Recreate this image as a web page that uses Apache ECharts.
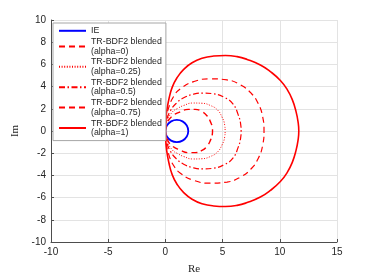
<!DOCTYPE html>
<html>
<head>
<meta charset="utf-8">
<script src="https://cdn.jsdelivr.net/npm/echarts@6/dist/echarts.min.js"></script>
<style>html,body{margin:0;padding:0;background:#fff}#c{width:374px;height:280px}</style>
</head>
<body>
<div id="c"></div>
<script>
const xTicks = [-10, 15, 5];
const yTicks = [-10, 10, 2];
const names = ['IE', 'TR-BDF2 blended\n(alpha=0)', 'TR-BDF2 blended\n(alpha=0.25)', 'TR-BDF2 blended\n(alpha=0.5)', 'TR-BDF2 blended\n(alpha=0.75)', 'TR-BDF2 blended\n(alpha=1)'];

const ieRe = [2, 1.87, 1.5, 1, 0.5, 0.13, 0, 0.13, 0.5, 1, 1.5, 1.87, 2];
const ieIm = [0, 0.5, 0.87, 1, 0.87, 0.5, 0, -0.5, -0.87, -1, -0.87, -0.5, 0];

const a0Re = [0, 0.15, 0.55, 1.31, 2.0, 2.6, 3.2, 3.65, 3.95, 4.1, 4.12, 4.1, 3.95, 3.65, 3.2, 2.6, 2.0, 1.31, 0.55, 0.15, 0];
const a0Im = [0, 0.7, 1.3, 1.73, 1.95, 1.95, 1.75, 1.35, 0.8, 0.3, 0, -0.3, -0.8, -1.35, -1.75, -1.95, -1.95, -1.73, -1.3, -0.7, 0];

const a25Re = [0, 0.12, 0.6, 1.1, 1.6, 2.4, 3.2, 3.93, 4.55, 4.95, 5.18, 5.22, 5.18, 4.95, 4.55, 3.93, 3.2, 2.4, 1.6, 1.1, 0.6, 0.12, 0];
const a25Im = [0, 0.8, 1.7, 2.05, 2.3, 2.52, 2.5, 2.3, 1.9, 1.25, 0.55, 0, -0.55, -1.25, -1.9, -2.3, -2.5, -2.52, -2.3, -2.05, -1.7, -0.8, 0];

const a50Re = [0, 0.1, 0.44, 1.0, 1.6, 2.4, 3.3, 4.2, 5.2, 5.9, 6.35, 6.58, 6.62, 6.58, 6.35, 5.9, 5.2, 4.2, 3.3, 2.4, 1.6, 1.0, 0.44, 0.1, 0];
const a50Im = [0, 0.9, 1.82, 2.55, 2.99, 3.3, 3.42, 3.35, 3.0, 2.45, 1.5, 0.6, 0, -0.6, -1.5, -2.45, -3.0, -3.35, -3.42, -3.3, -2.99, -2.55, -1.82, -0.9, 0];

const a75Re = [0, 0.08, 0.29, 0.73, 1.31, 2.48, 3.93, 5.39, 6.56, 7.5, 8.1, 8.5, 8.62, 8.5, 8.1, 7.5, 6.56, 5.39, 3.93, 2.48, 1.31, 0.73, 0.29, 0.08, 0];
const a75Im = [0, 1.1, 2.11, 3.13, 3.8, 4.45, 4.7, 4.6, 4.15, 3.4, 2.5, 1.3, 0, -1.3, -2.5, -3.4, -4.15, -4.6, -4.7, -4.45, -3.8, -3.13, -2.11, -1.1, 0];

const a1Re = [0, 0.03, 0.1, 0.3, 0.6, 1.05, 1.6, 2.33, 3.2, 4.22, 5.24, 6.27, 7.14, 8.3, 9.18, 10.05, 10.64, 11.1, 11.42, 11.6, 11.66,
              11.6, 11.42, 11.1, 10.64, 10.05, 9.18, 8.3, 7.14, 6.27, 5.24, 4.22, 3.2, 2.33, 1.6, 1.05, 0.6, 0.3, 0.1, 0.03, 0];
const a1Im = [0, 0.8, 1.67, 2.84, 3.95, 4.85, 5.55, 6.15, 6.55, 6.75, 6.8, 6.7, 6.45, 5.95, 5.35, 4.55, 3.75, 2.8, 1.75, 0.8, 0,
              -0.8, -1.75, -2.8, -3.75, -4.55, -5.35, -5.95, -6.45, -6.7, -6.8, -6.75, -6.55, -6.15, -5.55, -4.85, -3.95, -2.84, -1.67, -0.8, 0];

const pts = (re, im) => re.map((x, i) => [x, im[i]]);
const chart = echarts.init(document.getElementById('c'), null, {renderer: 'canvas'});
const txt = '#262626';
function mk(name, re, im, color, width, dash) {
  return {
    name, type: 'line', data: pts(re, im), showSymbol: false, symbol: 'none',
    smooth: 0.5, animation: false,
    lineStyle: {color, width, type: dash},
    itemStyle: {color}
  };
}
chart.setOption({
  animation: false,
  grid: {left: 51, right: 37, top: 20, bottom: 31},
  legend: {
    orient: 'vertical', left: 53, top: 23,
    padding: [3, 4, 3, 5], itemGap: 1.2, itemWidth: 27, itemHeight: 10,
    backgroundColor: '#fff', borderColor: '#a6a6a6', borderWidth: 1,
    itemStyle: {color: 'rgba(0,0,0,0)', borderColor: 'rgba(0,0,0,0)', borderWidth: 0},
    textStyle: {fontFamily: 'Liberation Sans', fontSize: 8.8, color: txt, lineHeight: 9.6},
    data: names
  },
  xAxis: {
    type: 'value', min: xTicks[0], max: xTicks[1], interval: xTicks[2],
    name: 'Re', nameLocation: 'middle', nameGap: 22,
    nameTextStyle: {fontFamily: 'Liberation Serif', fontSize: 11, color: txt},
    axisLine: {onZero: false, lineStyle: {color: '#4d4d4d', width: 1}},
    axisTick: {inside: true, length: 3, lineStyle: {color: '#4d4d4d'}},
    axisLabel: {fontFamily: 'Liberation Sans', fontSize: 10, color: txt, margin: 5},
    splitLine: {show: true, lineStyle: {color: '#e3e3e3', width: 1}}
  },
  yAxis: {
    type: 'value', min: yTicks[0], max: yTicks[1], interval: yTicks[2],
    name: 'Im', nameLocation: 'middle', nameGap: 20,
    nameTextStyle: {fontFamily: 'Liberation Serif', fontSize: 11, color: txt},
    axisLine: {onZero: false, lineStyle: {color: '#4d4d4d', width: 1}},
    axisTick: {inside: true, length: 3, lineStyle: {color: '#4d4d4d'}},
    axisLabel: {fontFamily: 'Liberation Sans', fontSize: 10, color: txt, margin: 5},
    splitLine: {show: true, lineStyle: {color: '#e3e3e3', width: 1}}
  },
  series: [
    mk(names[0], ieRe, ieIm, '#0000ff', 1.8, 'solid'),
    mk(names[1], a0Re, a0Im, '#ff0000', 1.4, [6, 4]),
    mk(names[2], a25Re, a25Im, '#ff0000', 1.0, [1, 1.6]),
    mk(names[3], a50Re, a50Im, '#ff0000', 1.2, [6, 2.5, 1.5, 2.5]),
    mk(names[4], a75Re, a75Im, '#ff0000', 1.2, [6, 4]),
    mk(names[5], a1Re, a1Im, '#ff0000', 1.6, 'solid')
  ]
});
</script>
</body>
</html>
